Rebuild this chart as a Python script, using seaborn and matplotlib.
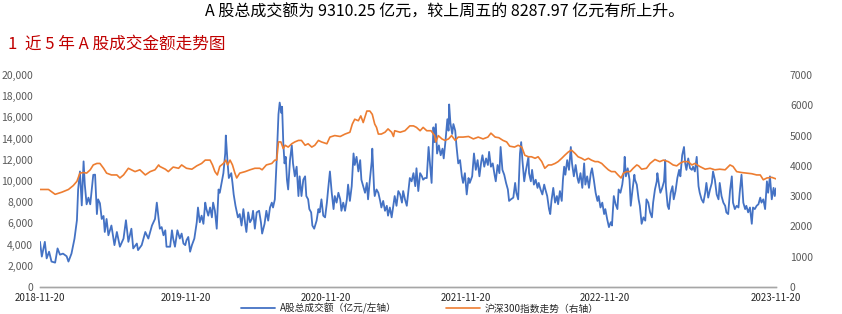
import matplotlib
matplotlib.use("Agg")
import matplotlib.pyplot as plt
import seaborn as sns
import pandas as pd

# ---------------- data ----------------
# trading-day index (0 = 2018-11-20, 1216 = 2023-11-20) and A-share turnover (亿元)
amount_day = [0, 3, 8, 11, 15, 19, 25, 29, 33, 38, 44, 47, 52, 57, 61, 63, 66, 69, 72, 74,
              77, 80, 83, 85, 88, 91, 94, 96, 99, 102, 105, 107, 110, 113, 118, 123, 127, 132, 138, 142,
              146, 151, 154, 160, 162, 168, 174, 179, 185, 190,
              193, 196, 198, 201, 204, 207, 209, 215, 218, 220, 223, 227, 231, 234, 237, 240, 242, 245, 248, 251,
              255, 259, 261, 264, 267, 270, 273, 275, 278, 281, 284, 286, 289, 292, 295, 297, 300, 303, 306, 307,
              310, 312, 316, 318, 320, 323, 327, 330, 333, 336, 339, 341, 344, 347, 350, 352, 355, 358, 362, 365,
              367, 371, 374, 377, 380, 383, 385, 388,
              391, 394, 396, 399, 400, 402, 404, 406, 408, 410, 413, 416, 418, 421, 424, 427, 429, 432, 435, 438,
              440, 443, 445, 448, 450, 453, 457, 460, 462, 465, 468, 471, 474, 476, 479, 482, 485, 487, 490, 493,
              496, 498, 501, 504, 507, 509, 512, 515, 518, 520, 523, 526, 529, 531, 534, 537, 540, 542, 545, 548,
              549, 552, 553, 556, 559, 562, 564, 567, 570, 573, 575, 578, 581, 584,
              586, 589, 592, 595, 598, 600, 603, 606, 609, 611, 614, 617, 620, 622, 625, 628, 631, 633, 636, 639,
              642, 644, 647, 650, 652, 654, 656, 659, 662, 665, 667, 670, 673, 675, 676, 678, 681, 683, 686, 688,
              691, 694, 697, 699, 702, 705, 708, 710, 714, 717, 720, 723, 726, 729, 731, 734, 737, 740, 742, 745,
              748, 751, 753, 756, 759, 761, 764, 767, 770, 773, 775, 778, 782,
              785, 787, 790, 793, 795, 797, 800, 802, 805, 807, 808, 811, 813, 816, 819, 822, 824, 827, 830, 833,
              835, 838, 841, 843, 845, 848, 851, 854, 856, 859, 862, 864, 866, 868, 871, 874, 877, 879, 882, 885,
              888, 890, 893, 896, 899, 901, 904, 907, 910, 912, 915, 918, 921, 923, 926, 929, 932, 934, 937, 940,
              943, 945, 948, 951, 954, 956, 959, 962, 965, 966, 968, 971, 974, 976, 979, 982,
              983, 986, 989, 991, 994, 997, 1000, 1002, 1005, 1008, 1011, 1013, 1016, 1019, 1020, 1023, 1025, 1028, 1031, 1033,
              1034, 1037, 1039, 1042, 1045, 1047, 1050, 1053, 1056, 1058, 1061, 1064, 1066, 1068, 1071, 1074, 1077, 1079, 1082, 1085,
              1088, 1090, 1093, 1096, 1099, 1101, 1104, 1107, 1110, 1112, 1115, 1118, 1121, 1123, 1126, 1129, 1132, 1134, 1137, 1140,
              1143, 1145, 1148, 1151, 1154, 1156, 1159, 1162, 1165, 1167, 1170, 1173, 1176, 1178, 1181, 1184, 1187, 1190, 1192, 1195,
              1198, 1201, 1203, 1206, 1209, 1212, 1214, 1216]
amount_val = [4260, 2870, 4260, 2700, 3330, 2400, 2300, 3640, 3050, 3150, 2900, 2400, 3150, 4560, 6300, 9200, 10900, 7700, 11850, 9660,
              7800, 8430, 7800, 8900, 10580, 10600, 6880, 8270, 7900, 6420, 6700, 5190, 6420, 4880, 5800, 3950, 5190, 3800, 4570, 6300,
              4260, 5500, 3640, 4100, 3480, 3950, 5190, 4570, 5800, 6420,
              7960, 6420, 5500, 5650, 4880, 5350, 3800, 3800, 5350, 4570, 3800, 5350, 4570, 5040, 4100, 3950, 4410, 4720, 3330, 3950,
              4570, 6110, 7500, 6110, 6730, 5960, 7960, 7350, 6730, 7500, 6570, 7960, 7190, 5500, 9200, 8890, 9820, 10740, 12600, 14290,
              11660, 10280, 10740, 9820, 8730, 7660, 6570, 6880, 5800, 7350, 5960, 5190, 7040, 6110, 6420, 7190, 5500, 7040, 7190, 6110,
              5040, 5960, 7190, 6260, 7500, 7960, 7500, 8270,
              11970, 16300, 17400, 16400, 17000, 13520, 11660, 12280, 10120, 9200, 11970, 13360, 11660, 10440, 11350, 8580, 10440, 8580, 10120, 10440,
              8580, 8270, 7350, 7040, 5800, 5500, 6260, 7350, 7040, 8270, 6730, 6570, 7960, 9200, 10900, 8890, 7350, 8580, 7960, 8890,
              8270, 7190, 7960, 7190, 8270, 9660, 8120, 9510, 12600, 11510, 12280, 10900, 11970, 10120, 9510, 8890, 9820, 8270, 10120, 11820,
              13050, 9200, 8580, 9200, 8890, 8120, 7500, 8120, 7190, 7660, 6730, 7500, 6570, 7810,
              8580, 7660, 9050, 8730, 7960, 9050, 8270, 7660, 9200, 10280, 9970, 10740, 9510, 11200, 9050, 10740, 10440, 10120, 10280, 10280,
              13210, 11820, 9820, 15060, 13670, 15370, 12590, 13360, 12430, 13050, 12130, 13820, 15830, 14750, 17220, 15520, 14440, 15370, 14750, 13360,
              11660, 11970, 10440, 9820, 10740, 8730, 10280, 9820, 10440, 12600, 11050, 11970, 10440, 11820, 12430, 11350, 12130, 11510, 12750, 11350,
              11660, 10590, 9970, 11510, 10740, 13210, 11050, 10590, 9820, 9200, 8120, 8270, 8430,
              9820, 8890, 8270, 12600, 13670, 11970, 9970, 10740, 11660, 12280, 10740, 9970, 11050, 9660, 10120, 9350, 9820, 9200, 8730, 9660,
              9200, 8580, 7350, 6880, 8120, 9350, 7960, 8580, 7810, 9050, 8120, 10120, 11350, 10590, 11970, 11050, 13210, 11660, 10440, 11510,
              10280, 9820, 10740, 9350, 11660, 9660, 10440, 9350, 10740, 11200, 10120, 8890, 8120, 8580, 7500, 7960, 6880, 7350, 6420, 5650,
              6110, 5800, 8580, 7810, 7350, 9200, 8890, 9660, 11050, 12280, 10440, 11200, 10120, 7660, 9200, 10590,
              10120, 9660, 8270, 7660, 5960, 6570, 6260, 8270, 7960, 7040, 6570, 7960, 9200, 9970, 10740, 9510, 8890, 9350, 9970, 11970,
              9510, 7660, 7350, 8890, 9510, 8270, 9050, 10280, 11050, 10440, 12430, 13210, 11660, 11050, 12130, 11200, 11050, 11350, 10900, 12280,
              9510, 8890, 8270, 7960, 8890, 9820, 8430, 9200, 9820, 10900, 10120, 8730, 8270, 9820, 8580, 7960, 7660, 7040, 6880, 9050,
              10440, 7960, 7350, 7660, 7500, 8890, 10590, 7960, 7350, 7660, 7040, 7500, 5960, 7500, 7350, 7660, 7810, 8430, 7960, 8270,
              7350, 9970, 8890, 10440, 8270, 9350, 8580, 9310]

# CSI 300 index (right axis)
csi_day = [0, 14, 25, 36, 47, 55, 61, 66, 72, 77, 83, 88, 94, 99, 105, 110, 118, 127, 132, 138,
           146, 151, 157, 165, 174, 182, 190, 196, 198, 207, 212, 220, 229, 234, 242, 251, 259, 267, 273, 281,
           285, 289, 293, 297, 303, 307, 310, 314, 318, 322, 325, 330, 339, 347, 355, 363, 367, 374, 383, 388,
           391, 394, 398, 402, 405, 410, 416, 421, 427, 432, 438, 443, 449, 454, 460, 465, 474, 479, 487, 496,
           504, 512, 516, 520, 526, 530, 534, 540, 545, 549, 553, 556, 559, 564, 570, 575, 581, 584,
           586, 595, 603, 611, 617, 622, 628, 633, 639, 646, 652, 654, 658, 664, 669, 675, 680, 686, 691, 699,
           708, 716, 724, 732, 740, 745, 752, 758, 765, 771, 776, 784,
           790, 796, 801, 807, 812, 818, 823, 829, 834, 840, 845, 851, 856, 862, 867, 873, 878, 884, 889, 895,
           900, 906, 911, 917, 922, 928, 933, 939, 944, 950, 955, 960, 964, 969, 975, 980, 986,
           989, 994, 1002, 1008, 1016, 1024, 1030, 1038, 1046, 1052, 1057, 1063, 1071, 1077, 1082, 1090, 1099, 1107, 1115, 1123,
           1132, 1140, 1145, 1151, 1159, 1167, 1176, 1184, 1190, 1195, 1201, 1209, 1216]
csi_val = [3220, 3220, 3060, 3130, 3220, 3350, 3490, 3760, 3780, 3760, 3870, 4030, 4080, 4080, 3920, 3760, 3700, 3700, 3600, 3700,
           3920, 3870, 3810, 3870, 3700, 3810, 3870, 4030, 3980, 3890, 3810, 3960, 3920, 4030, 3920, 3890, 4000, 4080, 4190, 4190,
           4030, 3810, 3700, 3980, 4080, 4190, 4030, 4190, 4030, 3760, 3600, 3760, 3810, 3870, 3920, 3920, 3870, 4030, 4080, 4190,
           4190, 4790, 4790, 4570, 4680, 4620, 4730, 4790, 4840, 4840, 4680, 4730, 4620, 4680, 4840, 4790, 4730, 4950, 5000, 4970,
           5050, 5110, 5380, 5540, 5490, 5650, 5430, 5810, 5810, 5700, 5380, 5270, 5050, 5050, 5110, 5220, 5110, 4970,
           5160, 5110, 5160, 5320, 5320, 5270, 5160, 5270, 5160, 5160, 5000, 4790, 5000, 4890, 4840, 4890, 5000, 4840, 4950, 4950,
           4970, 4890, 4950, 4890, 4950, 5080, 4950, 4930, 4840, 4790, 4650, 4620,
           4680, 4620, 4350, 4300, 4300, 4250, 4300, 4140, 3920, 4030, 4030, 4080, 4140, 4250, 4350, 4460, 4520, 4410, 4300, 4250,
           4190, 4250, 4190, 4140, 4140, 4080, 3980, 3870, 3810, 3810, 3700, 3600, 3760, 3810, 3810, 3920, 4030,
           4000, 3890, 3920, 4080, 4210, 4140, 4190, 4140, 4030, 4000, 4080, 4140, 4140, 4030, 4080, 3980, 3890, 3920, 3870, 3890,
           3870, 4030, 3980, 3810, 3780, 3760, 3740, 3700, 3700, 3540, 3600, 3620, 3570]

tick_days = [0, 241, 472, 704, 933, 1216]
tick_labels = ["2018-11-20", "2019-11-20", "2020-11-20", "2021-11-20", "2022-11-20", "2023-11-20"]

left_ticks = [0, 2000, 4000, 6000, 8000, 10000, 12000, 14000, 16000, 18000, 20000]
right_ticks = [0, 1000, 2000, 3000, 4000, 5000, 6000, 7000]

name_amount = "A股总成交额（亿元/左轴）"
name_csi = "沪深300指数走势（右轴）"
headline = "A 股总成交额为 9310.25 亿元，较上周五的 8287.97 亿元有所上升。"
fig_title = "1  近 5 年 A 股成交金额走势图"

# ---------------- plot ----------------
sns.set_theme(style="white")
plt.rcParams['font.family'] = ['Noto Sans CJK SC', 'DejaVu Sans']

BLUE = "#4472C4"
ORANGE = "#ED7D31"
GREY = "#595959"

df_a = pd.DataFrame({"day": amount_day, "val": amount_val})
df_c = pd.DataFrame({"day": csi_day, "val": csi_val})

fig = plt.figure(figsize=(8.42, 3.14), dpi=100)
ax = fig.add_axes([40 / 842, 27 / 314, 736 / 842, 212 / 314])
ax2 = ax.twinx()

sns.lineplot(data=df_a, x="day", y="val", ax=ax, color=BLUE, linewidth=1.3, label=name_amount, legend=False)
sns.lineplot(data=df_c, x="day", y="val", ax=ax2, color=ORANGE, linewidth=1.2, label=name_csi, legend=False)

ax.set_xlim(0, 1216)
ax.set_ylim(0, 20000)
ax2.set_ylim(0, 7000)
ax.set_yticks(left_ticks)
ax.set_yticklabels([f"{v:,}" for v in left_ticks])
ax2.set_yticks(right_ticks)
ax2.set_yticklabels([str(v) for v in right_ticks])
ax.set_xticks(tick_days)
ax.set_xticklabels(tick_labels)
ax.set_xlabel("")
ax.set_ylabel("")
ax2.set_ylabel("")

for a in (ax, ax2):
    for s in ("top", "left", "right"):
        a.spines[s].set_visible(False)
    a.spines["bottom"].set_color("#A6A6A6")
    a.spines["bottom"].set_linewidth(1.0)
    a.grid(False)

ax.tick_params(axis="y", length=0, pad=5, labelsize=7.5, labelcolor=GREY)
ax2.tick_params(axis="y", length=0, pad=10, labelsize=7.5, labelcolor=GREY)
ax.tick_params(axis="x", length=3, width=0.8, color="#A6A6A6", pad=1.5, labelsize=7, labelcolor="#262626",
               direction="out")

fig.text(445 / 842, 1 - 12 / 314, headline, ha="center", va="center", fontsize=11.5, color="black")
fig.text(8 / 842, 1 - 44 / 314, fig_title, ha="left", va="center", fontsize=12, color="#C00000")

h1, l1 = ax.get_legend_handles_labels()
h2, l2 = ax2.get_legend_handles_labels()
fig.legend(h1 + h2, l1 + l2, loc="center", bbox_to_anchor=(420 / 842, (314 - 308.5) / 314), ncol=2,
           frameon=False, fontsize=7, handlelength=3.5, columnspacing=5, handletextpad=0.5,
           borderpad=0, borderaxespad=0)

fig.savefig("out.png", dpi=100)
